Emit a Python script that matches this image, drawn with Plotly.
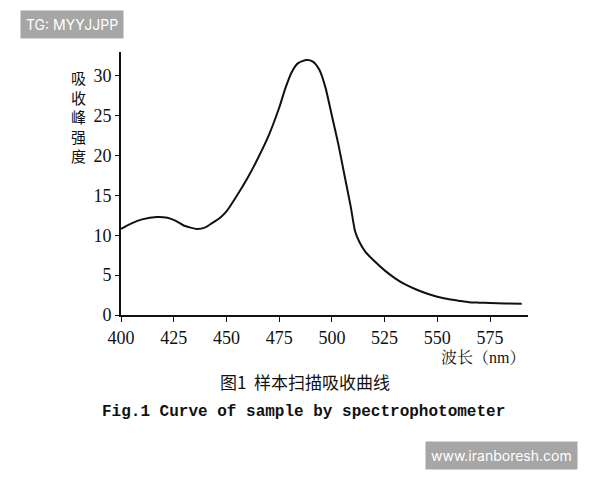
import plotly.graph_objects as go

# wavelength (nm) and peak intensity
wavelength = [400, 405, 410, 417, 422, 426, 430, 436, 440, 443, 447, 450, 455, 460, 465, 470, 475,
              478, 481, 484, 488, 491, 494, 497, 500, 503, 506, 509, 511, 513, 516, 520, 525,
              530, 535, 540, 545, 550, 555, 560, 565, 570, 575, 582, 590]
intensity = [10.8, 11.5, 12.0, 12.3, 12.2, 11.8, 11.2, 10.8, 11.0, 11.5, 12.2, 13.0, 15.0, 17.2, 19.7,
             22.5, 26.0, 28.5, 30.5, 31.6, 32.0, 31.8, 30.8, 28.5, 25.0, 21.5, 17.5, 13.5, 10.5, 9.2,
             7.9, 6.8, 5.6, 4.6, 3.8, 3.2, 2.7, 2.3, 2.0, 1.8, 1.6, 1.55, 1.5, 1.45, 1.4]
x_ticks = [400, 425, 450, 475, 500, 525, 550, 575]
y_ticks = [0, 5, 10, 15, 20, 25, 30]

serif = "Liberation Serif, Noto Serif CJK SC, Noto Sans CJK SC"
OFF = 8  # page body margin of the browser

fig = go.Figure(go.Scatter(x=wavelength, y=intensity, mode="lines",
                           line=dict(color="#111", width=2, shape="spline", smoothing=0.6)))

fig.update_xaxes(range=[400, 593], tickvals=x_ticks, showline=True, linecolor="#111", linewidth=2,
                 ticks="outside", ticklen=5, tickcolor="#111", showgrid=False, zeroline=False,
                 automargin=False, tickfont=dict(family=serif, size=18, color="#111"))
fig.update_yaxes(range=[0, 33], tickvals=y_ticks, showline=True, linecolor="#111", linewidth=2,
                 ticks="outside", ticklen=4, tickcolor="#111", showgrid=False, zeroline=False,
                 automargin=False, tickfont=dict(family=serif, size=18, color="#111"))

fig.update_layout(
    width=600 - OFF, height=480 - OFF, plot_bgcolor="white", paper_bgcolor="white", showlegend=False,
    margin=dict(l=121 - OFF, r=72, t=52 - OFF, b=165),
    annotations=[
        dict(text="吸<br>收<br>峰<br>强<br>度", x=78, y=116, showarrow=False,
             font=dict(family="Noto Sans CJK SC", size=15, color="#111")),
        dict(text="波长（nm）", x=483, y=357, showarrow=False, font=dict(family=serif, size=16, color="#111")),
        dict(text="图1  样本扫描吸收曲线", x=305, y=381, showarrow=False,
             font=dict(family="Noto Sans CJK SC", size=17, color="#111")),
        dict(text="<b>Fig.1 Curve of sample by spectrophotometer</b>", x=303, y=412, showarrow=False,
             font=dict(family="Liberation Mono", size=16, color="#111")),
        dict(text="TG: MYYJJPP", x=72, y=25, showarrow=False, bgcolor="#a6a6a6",
             font=dict(family="Inter", size=14, color="white"), borderpad=5),
        dict(text="www.iranboresh.com", x=501, y=455, showarrow=False, bgcolor="#a6a6a6",
             font=dict(family="Inter", size=14, color="white"), borderpad=5),
    ],
)
# convert pixel positions of annotations into paper coordinates
for a in fig.layout.annotations:
    a.xref = "paper"; a.yref = "paper"
    a.xanchor = "center"; a.yanchor = "middle"
    a.x = (a.x - 121) / 407
    a.y = (315 - a.y) / 263

fig.write_html("out.html")
